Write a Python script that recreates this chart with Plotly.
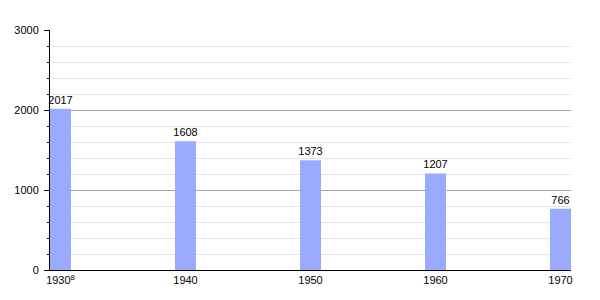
import plotly.graph_objects as go

years = ["1930<sup>8</sup>", "1940", "1950", "1960", "1970"]
population = [2017, 1608, 1373, 1207, 766]
y_ticks = [0, 1000, 2000, 3000]

fig = go.Figure()
fig.add_trace(go.Bar(
    x=years,
    y=population,
    marker=dict(color="#99aaff", line=dict(width=0)),
    text=[str(v) for v in population],
    textposition="outside",
    constraintext="none",
    textfont=dict(size=11, color="#000000", family="Liberation Sans"),
    cliponaxis=False,
    width=0.168,
))

fig.update_layout(
    width=600,
    height=300,
    margin=dict(l=50, r=29, t=30, b=30),
    paper_bgcolor="white",
    plot_bgcolor="white",
    font=dict(family="Liberation Sans", size=11, color="#000000"),
    showlegend=False,
    xaxis=dict(
        type="category",
        range=[-0.084, 4.084],
        showline=True,
        linecolor="#000000",
        linewidth=1,
        ticks="",
        showgrid=False,
        zeroline=False,
        tickfont=dict(size=11, color="#000000"),
    ),
    yaxis=dict(
        range=[0, 3000],
        tickvals=y_ticks,
        showline=True,
        linecolor="#000000",
        linewidth=1,
        ticks="outside",
        ticklen=5,
        tickcolor="#000000",
        showgrid=True,
        gridcolor="#aaaaaa",
        gridwidth=1,
        zeroline=False,
        ticklabelstandoff=3,
        tickfont=dict(size=11, color="#000000"),
        minor=dict(
            dtick=200,
            showgrid=True,
            gridcolor="#e4e4e4",
            gridwidth=1,
            ticks="outside",
            ticklen=2,
            tickcolor="#000000",
        ),
    ),
)

fig.write_html("out.html")
